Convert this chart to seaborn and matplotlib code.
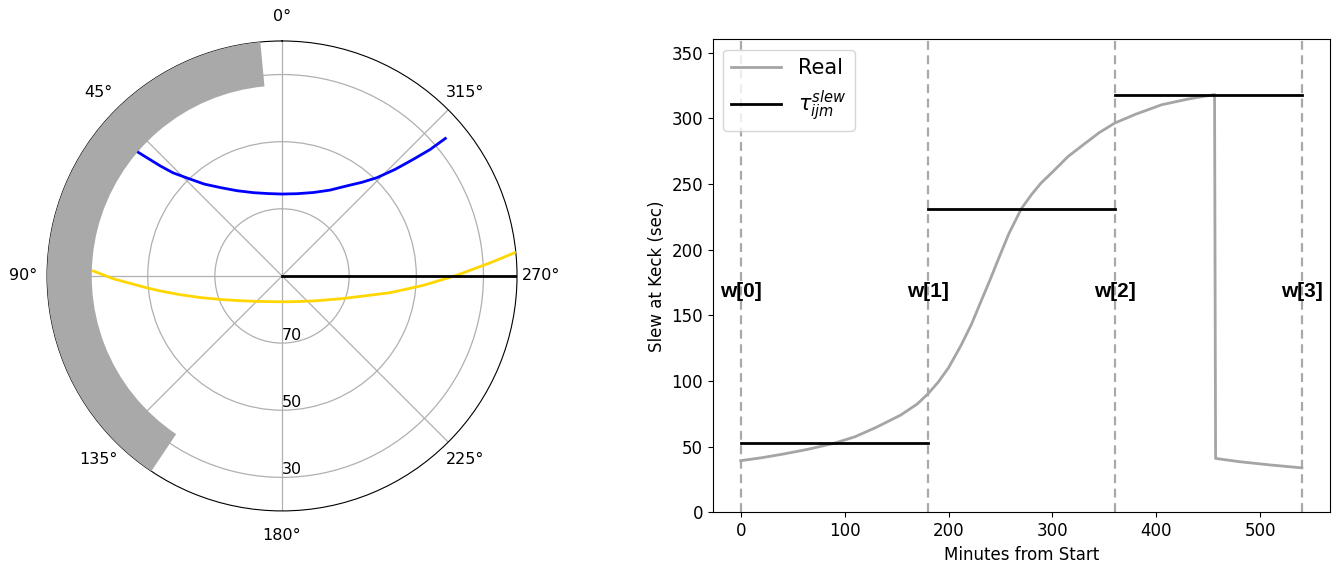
import numpy as np
import matplotlib
matplotlib.use("Agg")
import matplotlib.pyplot as plt
import seaborn as sns
import pandas as pd

# ---------------- Polar (sky) panel data ----------------
# azimuth (deg) and zenith distance (deg, 90 - altitude)
blue_az = [49.3, 47.9, 46.6, 43.8, 40.3, 34.9, 27.8, 18.8, 9.7, 0.0,
           -10.3, -20.8, -29.2, -35.8, -40.5, -44.0, -46.7, -48.4, -49.5, -49.9]
blue_zd = [56.4, 48.9, 44.7, 40.2, 35.9, 32.1, 28.7, 26.2, 24.9, 24.4,
           24.9, 26.6, 29.3, 33.1, 36.7, 40.7, 46.3, 52.4, 58.0, 63.6]

yellow_az = [88.5, 90.95, 95.0, 97.0, 100.4, 104.7, 110.8, 120.6, 135.6, 155.0,
             180.0, 197.2, 215.1, 232.9, 248.5, 256.5, 261.2, 266.2, 270.2,
             273.6, 275.8]
yellow_zd = [56.2, 50.3, 40.5, 36.6, 30.9, 25.3, 19.7, 14.5, 10.6, 8.45,
             7.7, 8.04, 9.3, 12.3, 18.6, 25.4, 32.6, 42.2, 52.0,
             62.1, 70.1]

black_az = [270.0, 270.0]
black_zd = [0.0, 70.0]

# Keck Nasmyth deck limit (azimuth range, minimum altitude)
deck_az = [5.3, 146.2]
deck_alt_limit = 33.3
horizon_alt = 20.0

r_ticks = [20, 40, 60]
r_tick_labels = ["70", "50", "30"]

# ---------------- Slew panel data ----------------
real_min = [0, 20, 41.5, 65, 89.8, 110, 130, 154, 170, 180, 190, 200, 212, 222,
            232, 240, 247.6, 258, 270, 280, 289, 300, 315, 330, 345, 360, 380,
            405, 430, 456, 457, 480, 510, 540]
real_slew = [39.3, 41.5, 44.4, 48.0, 52.5, 57.5, 64.5, 74.0, 82.5, 90.0, 99.0,
             110.0, 127.0, 143.0, 162.0, 177.0, 192.0, 212.0, 231.0, 242.0,
             250.6, 259.0, 270.8, 280.0, 289.0, 296.3, 303.0, 310.2, 314.5,
             318.0, 41.0, 38.5, 36.0, 33.8]

window_edges = [0, 180, 360, 540]
tau_slew = [52.5, 231.2, 317.8]
window_labels = ["w[0]", "w[1]", "w[2]", "w[3]"]

# ---------------- Figure ----------------
fig = plt.figure(figsize=(13.37, 5.65), dpi=100)

# Polar axes
ax1 = fig.add_axes([0.0352, 0.0956, 0.3515, 0.832], projection="polar")
ax1.set_theta_zero_location("N")
ax1.set_theta_direction(1)

width = np.deg2rad(deck_az[1] - deck_az[0])
center = np.deg2rad((deck_az[0] + deck_az[1]) / 2)
ax1.bar([center], [(90 - horizon_alt) - (90 - deck_alt_limit) + 5], width=width,
        bottom=90 - deck_alt_limit, color="darkgray", edgecolor="none", zorder=3)

ax1.plot(np.deg2rad(blue_az), blue_zd, color="blue", lw=2, zorder=4)
ax1.plot(np.deg2rad(yellow_az), yellow_zd, color="gold", lw=2, zorder=4)
ax1.plot(np.deg2rad(black_az), black_zd, color="black", lw=2, zorder=4)

ax1.set_rlim(0, 90 - horizon_alt)
ax1.set_rticks(r_ticks)
ax1.set_yticklabels(r_tick_labels, fontsize=11.5)
ax1.set_rlabel_position(180)
ax1.set_thetagrids(np.arange(0, 360, 45))
ax1.tick_params(axis="x", labelsize=11.5, pad=7)
ax1.grid(True, color="#b0b0b0", lw=0.9)

# Slew axes
ax2 = fig.add_axes([0.533, 0.0933, 0.4617, 0.837])
df = pd.DataFrame({"Minutes from Start": real_min, "Slew at Keck (sec)": real_slew})
sns.lineplot(data=df, x="Minutes from Start", y="Slew at Keck (sec)", ax=ax2,
             color="#a5a5a5", lw=2, label="Real", zorder=3)
for i, tau in enumerate(tau_slew):
    ax2.plot([window_edges[i], window_edges[i + 1]], [tau, tau], color="black", lw=2,
             label=r"$\tau_{ijm}^{slew}$" if i == 0 else None, zorder=4)
for x, lab in zip(window_edges, window_labels):
    ax2.axvline(x, color="darkgray", ls=(0, (4, 2.5)), lw=1.6, zorder=2)
    ax2.text(x, 168, lab, ha="center", va="center", fontsize=15,
             fontweight="bold", family="Liberation Sans", zorder=5)

ax2.set_ylim(0, 360)
ax2.set_yticks(np.arange(0, 351, 50))
ax2.set_xticks(np.arange(0, 501, 100))
ax2.tick_params(labelsize=12)
ax2.set_xlabel("Minutes from Start", fontsize=12)
ax2.set_ylabel("Slew at Keck (sec)", fontsize=12)
ax2.legend(loc="upper left", fontsize=15, handlelength=2.4)

fig.savefig("out.png", dpi=100)
